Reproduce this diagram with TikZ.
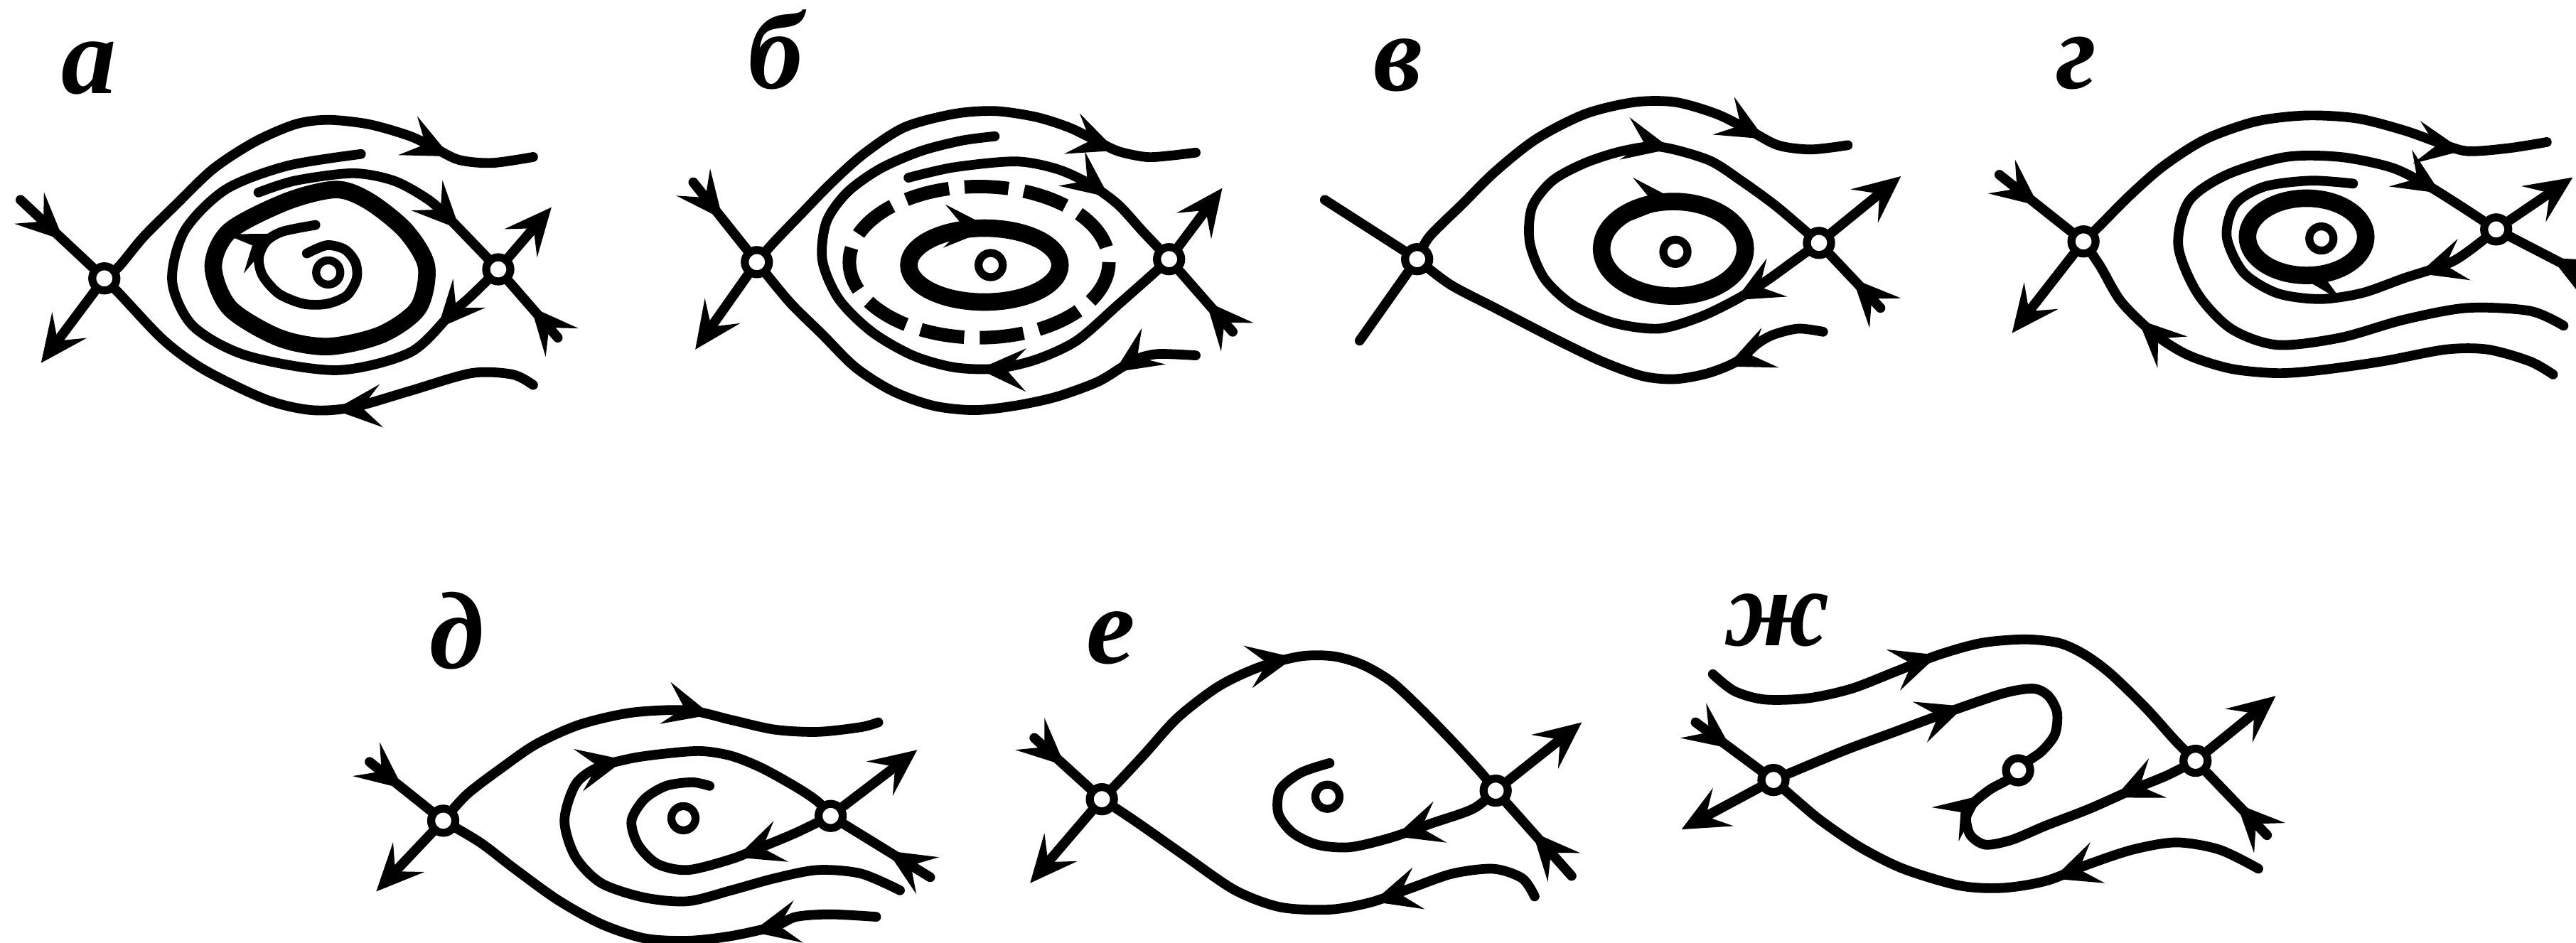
\documentclass[tikz,border=0pt]{standalone}
\usepackage{fontspec}
\setmainfont{Liberation Serif}
\usetikzlibrary{arrows.meta,decorations.markings}
\pgfdeclarelayer{bg}
\pgfsetlayers{bg,main}
\tikzset{
  >={Stealth[length=6.6mm,width=6mm,inset=2.7mm]},
  traj/.style={line width=3.9pt,line cap=round,line join=round},
  cyc/.style={line width=7pt},
  dashcyc/.style={line width=5.4pt,dash pattern=on 6.2mm off 2.2mm},
  pt/.style={circle,draw,fill=white,line width=3.2pt,minimum size=3.4mm,inner sep=0pt},
  midarr/.style={postaction={decorate,decoration={markings,mark=at position #1 with {\arrow{>}}}}},
  lab/.style={anchor=base,inner sep=0pt,font=\fontsize{44}{44}\selectfont\bfseries\itshape},
}
\begin{document}
\begin{tikzpicture}[x=0.2311mm,y=-0.2311mm]
\useasboundingbox (0,0) rectangle (1568,574);

% ---------- singular points ----------
\node[pt] (aL) at (63.5,169.5) {};
\node[pt] (aR) at (303.3,164) {};
\node[pt] (aF) at (199.8,165.9) {};
\node[pt] (bL) at (460.7,159.6) {};
\node[pt] (bR) at (711.6,157.8) {};
\node[pt] (bF) at (603,161.4) {};
\node[pt] (vL) at (862.6,157.8) {};
\node[pt] (vR) at (1107.2,147.9) {};
\node[pt] (vF) at (1019.8,153.3) {};
\node[pt] (gL) at (1268.2,147) {};
\node[pt] (gR) at (1519.4,139.7) {};
\node[pt] (gF) at (1413,145.2) {};
\node[pt] (dL) at (269.8,499.7) {};
\node[pt] (dR) at (505.6,496.8) {};
\node[pt] (dF) at (416,498.2) {};
\node[pt] (eL) at (670.7,486.6) {};
\node[pt] (eR) at (910.4,481.4) {};
\node[pt] (eF) at (808,485.1) {};
\node[pt] (zL) at (1079.5,474.9) {};
\node[pt] (zR) at (1336.4,463.2) {};
\node[pt] (zF) at (1228.4,469) {};

% ---------- labels ----------
\node[lab] (la) at (54,57) {а};
\node[lab] (lb) at (472,54) {б};
\node[lab] (lv) at (851,55) {в};
\node[lab] (lg) at (1264,54) {г};
\node[lab] (ld) at (278,407) {д};
\node[lab] (le) at (676,404) {е};
\node[lab] (lz) at (1082,393) {ж};

\begin{pgfonlayer}{bg}
% ================= panel a =================
\draw[traj,midarr=0.6] (12.5,121.7) -- (aL);
\draw[traj,->] (aL) -- (25,221);
\draw[traj,midarr=0.83] plot[smooth] coordinates {(aL.center) (72.4,162.3) (87.4,144.2) (107.3,124.4) (129.8,102.8) (154.8,86.5) (179.7,75.7) (199.7,73) (224.7,75.7) (249.6,82.9) (264.6,90.2) (279.6,97.4) (299.6,99.2) (324.5,95.6)};
\draw[traj,midarr=0.43] plot[smooth] coordinates {(324.5,234.4) (312,228) (287,227.2) (249.6,238) (214.7,248) (189.7,249.7) (162.3,243.4) (124.8,225.4) (99.9,207.4) (72.4,178.5) (aL.center)};
\draw[traj,midarr=0.55] (339.5,205.6) -- (aR);
\draw[traj,->] (aR) -- (335.7,126.2);
\draw[traj,midarr=0.13] plot[smooth] coordinates {(aR.center) (287,180) (274.6,191) (249.6,214.6) (204.7,225.4) (149.8,216.4) (117.3,198.3) (104.8,171.3) (112.3,140.6) (137.3,115.4) (174.7,101) (219.7,93.8)};
\draw[traj,midarr=0.8] plot[smooth] coordinates {(157.3,117.2) (179.7,110) (214.7,105.5) (239.6,110) (259.6,120.8) (272,131.6) (aR.center)};
\draw[cyc] plot[smooth cycle] coordinates {(204.7,115.4) (224.7,122.6) (247,140.6) (259.6,162.3) (254.6,187.5) (232.2,203.7) (199.7,211) (169.7,205.6) (139.8,187.5) (129.8,162.3) (139.8,140.6) (174.7,122.6)};
\draw[traj,midarr=0.86] plot[smooth] coordinates {(186.8,154.3) (199,149.3) (210,152) (216.4,160) (217,170) (211,180) (199,185) (185,185) (170,179) (160,168) (157.5,157) (162,147) (172,141) (192,137)};

% ================= panel b =================
\draw[traj,midarr=0.55] (422,111) -- (bL);
\draw[traj,->] (bL) -- (423.2,212.8);
\draw[traj,midarr=0.84] plot[smooth] coordinates {(bL.center) (470.7,147.9) (488.1,129.8) (505.6,111.8) (525.6,93.8) (550.5,77.5) (580.5,69.4) (605.5,67.6) (630.4,71.2) (650.4,77.5) (665.4,84.7) (680.4,92) (697.8,95.6) (712.8,94.7) (727.8,92.9)};
\draw[traj,midarr=0.17] plot[smooth] coordinates {(727.8,216.4) (705.3,215.5) (692.8,218.2) (682.9,223.6) (667.9,232.6) (643,241.6) (618,247) (593,249.7) (568,247) (543.1,238) (520.6,223.6) (500.6,203.7) (480.6,183.9) (bL.center)};
\draw[traj,midarr=0.34] plot[smooth] coordinates {(bR.center) (702.8,165.9) (680.4,185.7) (655.4,207.4) (630.4,219) (605.5,224.5) (580.5,223.6) (555.5,216.4) (530.6,202) (510.6,182.1) (500.6,158.7) (503,135.2) (515.6,117.2) (535.6,102.8) (560.5,92) (585.5,85.6) (605.5,83)};
\draw[traj,midarr=0.71] plot[smooth] coordinates {(553,108.2) (580.5,101.9) (618,98.3) (643,102.8) (662.9,111.8) (680.4,124.4) (695.3,140.6) (bR.center)};
\draw[dashcyc] (596,159.6) ellipse [x radius=79, y radius=46];
\draw[cyc,midarr=0.77] (599.2,161.4) ellipse [x radius=46, y radius=22.5];
\draw[traj,midarr=0.5] (750.3,202) -- (bR);
\draw[traj,->] (bR) -- (744,114.5);

% ================= panel v =================
\draw[traj] (806.4,121.7) -- (vL);
\draw[traj] (vL) -- (827.6,207.4);
\draw[traj,midarr=0.83] plot[smooth] coordinates {(vL.center) (870,144.2) (890,124.4) (910,104.6) (935,84.7) (964.9,69.4) (994.9,62.2) (1019.8,62.2) (1044.8,69.4) (1064.8,79.3) (1082.2,88.4) (1102.2,91) (1124.7,88.4)};
\draw[traj,midarr=0.24] plot[smooth] coordinates {(1109.7,202) (1094.7,200.1) (1079.7,203.7) (1069.8,209.2) (1057.3,220) (1039.8,227.2) (1019.8,230.8) (999.9,229) (974.9,220) (945,205.6) (910,187.5) (882.5,173.1) (vL.center)};
\draw[traj,midarr=0.14,midarr=0.755] plot[smooth] coordinates {(vR.center) (1092.2,158.7) (1074.7,171.3) (1057.3,182.1) (1034.8,193) (1009.8,200.1) (982.4,196.6) (957.4,185.7) (940,169.5) (931.2,147.9) (932.5,126.2) (945,110) (964.9,99.2) (987.4,92) (1009.8,89.3) (1039.8,97.4) (1059.8,110) (1079.7,124.4) (1094.7,137) (vR.center)};
\draw[cyc,midarr=0.765] (1018.6,151.5) ellipse [x radius=43.7, y radius=28.8];
\draw[traj,midarr=0.55] (1144.6,187.5) -- (vR);
\draw[traj,->] (vR) -- (1157.1,107.3);

% ================= panel g =================
\draw[traj,midarr=0.55] (1217,106.4) -- (gL);
\draw[traj,->] (gL) -- (1224.7,202.8);
\draw[traj,midarr=0.835] plot[smooth] coordinates {(gL.center) (1278.5,137) (1296.4,119) (1317,101) (1342.6,84.7) (1373.3,73.9) (1404.1,70.3) (1434.8,72.1) (1463,79.3) (1483.5,86.5) (1501.5,92) (1527.1,90.2) (1550.2,86.5)};
\draw[traj,midarr=0.82] plot[smooth] coordinates {(1554,228) (1539.9,220) (1514.3,212.8) (1488.7,212.8) (1450.2,220) (1411.8,225.4) (1386.1,227.2) (1358,224.5) (1332.3,216.4) (1311.8,203.7) (1291.3,183.9) (1278.5,162.3) (gL.center)};
\draw[traj,midarr=0.92] plot[smooth] coordinates {(1560.4,198.3) (1539.9,189.3) (1501.5,187.5) (1463,194.7) (1424.6,205.6) (1386.1,210) (1358,200.1) (1337.5,178.5) (1325.9,149.7) (1332.3,122.6) (1355.4,106.4) (1391.3,95.6) (1424.6,95.6) (1455.3,101.9) (1475.8,111.8) (1498.9,126.2) (gR.center)};
\draw[traj,midarr=0.19] plot[smooth] coordinates {(gR.center) (1493.8,158.7) (1463,169.5) (1437.4,178.5) (1411.8,182.1) (1386.1,178.5) (1365.6,165.9) (1355.4,144.2) (1360.5,124.4) (1378.4,113.6) (1406.6,110) (1432.3,111.8)};
\draw[cyc,midarr=0.28] (1404,144.2) ellipse [x radius=36, y radius=23.5];
\draw[traj,->] (gR) -- (1566,108);
\draw[traj,midarr=0.5] (1578,170) -- (gR);

% ================= panel d =================
\draw[traj,midarr=0.55] (225,463.9) -- (dL);
\draw[traj,->] (dL) -- (229,542.8);
\draw[traj,midarr=0.64] plot[smooth] coordinates {(dL.center) (284.3,483.6) (305.4,467.5) (326.5,453) (352.8,441.2) (384.4,433.9) (418.7,432.5) (445,438.3) (471.4,444.2) (497.7,445.6) (524.1,442.7) (534.6,439.8)};
\draw[traj,midarr=0.27] plot[smooth] coordinates {(533.3,558.2) (505.6,556.7) (484.6,558.2) (471.4,564) (445,569.9) (418.7,572.8) (392.3,571.3) (366,562.6) (339.6,548) (313.3,529) (292.2,512.9) (dL.center)};
\draw[traj,midarr=0.68] plot[smooth] coordinates {(547.8,542.1) (524.1,531.9) (497.7,529.7) (471.4,534.8) (445,542.1) (418.7,548.7) (392.3,546.5) (366,537.7) (350.2,521.6) (343.6,499.7) (350.2,477.8) (363.3,467.5) (384.4,461.7) (405.5,458.8) (426.6,457.3) (445,460.2) (463.5,467.5) (484.6,479.2) (497.7,488) (dR.center)};
\draw[traj,midarr=0.31] plot[smooth] coordinates {(dR.center) (484.6,507) (463.5,515.8) (445,523.1) (418.7,529.7) (400.2,526) (388.4,514.3) (384.4,499.7) (392.3,486.5) (405.5,478.5) (421.3,476.3) (431.9,478.5)};
\draw[traj,->] (dR) -- (558.3,456.6);
\draw[traj,midarr=0.5] (566.2,534.1) -- (dR);

% ================= panel e =================
\draw[traj,midarr=0.55] (629.6,449.3) -- (eL);
\draw[traj,->] (eL) -- (627,537.7);
\draw[traj,midarr=0.49] plot[smooth] coordinates {(eL.center) (682,474.9) (697,458.8) (716.9,436.9) (741.9,417.8) (766.8,406.1) (791.8,399.6) (811.8,399.6) (829.3,404.7) (846.7,414.9) (864.2,431) (884.2,451.5) (901.6,470.5) (eR.center)};
\draw[traj,midarr=0.37] plot[smooth] coordinates {(934.1,545.8) (926.6,534.8) (909.1,529) (884.2,531.9) (859.2,540.6) (834.3,549.4) (809.3,553.8) (779.3,552.3) (751.9,542.1) (721.9,521.6) (697,504.1) (682,493.9) (eL.center)};
\draw[traj,midarr=0.345] plot[smooth] coordinates {(eR.center) (896.7,492.4) (871.7,501.2) (846.7,510) (821.8,515.8) (801.8,514.3) (786.8,507) (778.1,495.3) (779.3,480.7) (791.8,470.5) (809.3,464.6)};
\draw[traj,->] (eR) -- (962.8,439.8);
\draw[traj,midarr=0.6] (956.6,533.3) -- (eR);

% ================= panel zh =================
\draw[traj,midarr=0.55] (1032.1,439.8) -- (zL);
\draw[traj,->] (zL) -- (1023.5,505);
\draw[traj,midarr=0.53] plot[smooth] coordinates {(zL.center) (1121.7,457.3) (1153.3,445.6) (1184.9,433.9) (1219.2,422.2) (1237.6,419.3) (1246.8,423.7) (1252.1,433.9) (1250.8,447.1) (1242.9,457.3) (1233.7,463.9) (zF.center)};
\draw[traj,midarr=0.265,midarr=0.87] plot[smooth] coordinates {(zR.center) (1319.3,472) (1298.2,480.7) (1271.9,492.4) (1245.5,502.6) (1224.4,511.4) (1208.6,514.3) (1199.4,508.5) (1196.8,498.2) (1200.7,489.5) (1211.3,480.7) (1221.8,474.9) (zF.center)};
\draw[traj,midarr=0.44] plot[smooth] coordinates {(1042.6,410.5) (1055.8,420.8) (1074.2,425.9) (1100.6,425.1) (1127,419.3) (1153.3,409.1) (1179.7,398.8) (1206,391.5) (1232.4,389.3) (1253.4,391.5) (1269.3,398.8) (1285,410.5) (1306.1,431) (1324.6,451.5) (zR.center)};
\draw[traj,midarr=0.41] plot[smooth] coordinates {(1374.6,528.9) (1350.9,517.3) (1324.6,512.9) (1298.2,517.3) (1271.9,526) (1245.5,536.3) (1219.2,540.6) (1192.8,539.2) (1158.6,529) (1132.2,515.8) (1108.5,499.7) (1092.7,486.5) (zL.center)};
\draw[traj,->] (zR) -- (1385.2,423.7);
\draw[traj,midarr=0.5] (1379.9,508.5) -- (zR);
\end{pgfonlayer}
\end{tikzpicture}
\end{document}
